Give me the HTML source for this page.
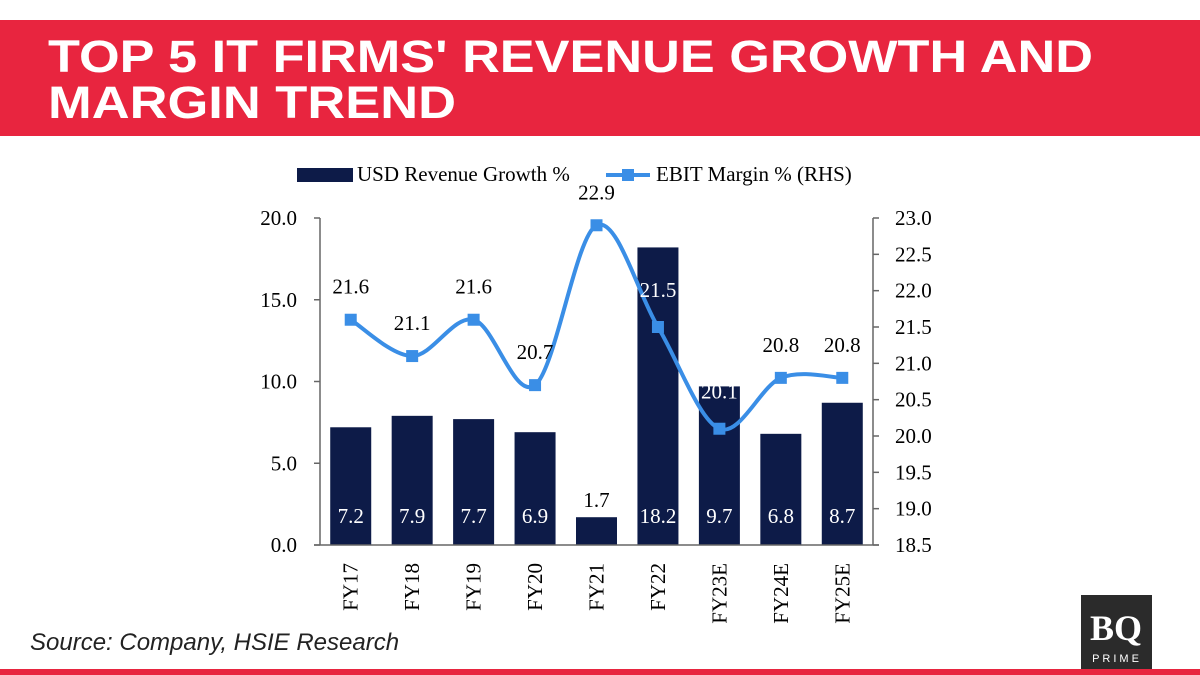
<!DOCTYPE html>
<html><head><meta charset="utf-8"><style>
html,body{margin:0;padding:0;background:#fff;width:1200px;height:675px;overflow:hidden}
svg{display:block}
</style></head><body>
<svg id="c" width="1200" height="675" xmlns="http://www.w3.org/2000/svg">
<rect x="0" y="20" width="1200" height="116" fill="#e8253f"/>
<text x="48" y="72" fill="#fff" font-family="Liberation Sans, sans-serif" font-weight="bold" font-size="45" textLength="1045" lengthAdjust="spacingAndGlyphs">TOP 5 IT FIRMS' REVENUE GROWTH AND</text>
<text x="48" y="118" fill="#fff" font-family="Liberation Sans, sans-serif" font-weight="bold" font-size="45" textLength="408" lengthAdjust="spacingAndGlyphs">MARGIN TREND</text>
<g>
<rect x="297" y="168" width="56" height="14" fill="#0d1b48"/>
<text x="357" y="181" font-family="Liberation Serif, serif" font-size="21" fill="#000">USD Revenue Growth %</text>
<line x1="606" y1="175" x2="650" y2="175" stroke="#3a8ee6" stroke-width="4"/>
<rect x="622" y="169" width="12" height="12" fill="#3a8ee6"/>
<text x="656" y="181" font-family="Liberation Serif, serif" font-size="21" fill="#000">EBIT Margin % (RHS)</text>
</g>
<g id="plot"></g>
<text x="30" y="650" font-family="Liberation Sans, sans-serif" font-style="italic" font-size="24" fill="#222">Source: Company, HSIE Research</text>
<g>
<rect x="1081" y="595" width="71" height="74" fill="#2b2b2b"/>
<text x="1116" y="640" text-anchor="middle" fill="#fff" font-family="Liberation Serif, serif" font-weight="bold" font-size="36">BQ</text>
<text x="1117" y="662" text-anchor="middle" fill="#fff" font-family="Liberation Sans, sans-serif" font-size="11" letter-spacing="3">PRIME</text>
</g>
<rect x="0" y="669" width="1200" height="6" fill="#e8253f"/>
</svg>
<script>
const categories=["FY17","FY18","FY19","FY20","FY21","FY22","FY23E","FY24E","FY25E"];
const revenueGrowth=[7.2,7.9,7.7,6.9,1.7,18.2,9.7,6.8,8.7];
const ebitMargin=[21.6,21.1,21.6,20.7,22.9,21.5,20.1,20.8,20.8];
const leftTicks=[0,5,10,15,20];
const rightTicks=[18.5,19,19.5,20,20.5,21,21.5,22,22.5,23];
const NS="http://www.w3.org/2000/svg";
const g=document.getElementById("plot");
const X0=320,X1=873,Y0=545,Y1=218;
const band=(X1-X0)/categories.length;
const xc=i=>X0+band*(i+0.5);
const yL=v=>Y0-(v-0)/(20-0)*(Y0-Y1);
const yR=v=>Y0-(v-18.5)/(23-18.5)*(Y0-Y1);
function mk(t,a,p){const e=document.createElementNS(NS,t);for(const k in a)e.setAttribute(k,a[k]);(p||g).appendChild(e);return e;}
function txt(x,y,s,a){const e=mk("text",Object.assign({x:x,y:y,"font-family":"Liberation Serif, serif","font-size":"21"},a));e.textContent=s;return e;}
// bars
revenueGrowth.forEach((v,i)=>{
 const r=mk("rect",{x:xc(i)-20.5,y:yL(v),width:41,height:Y0-yL(v),fill:"#0d1b48"});
 
 
});
// axes
let a=mk("line",{x1:X0,y1:Y1,x2:X0,y2:Y0,stroke:"#666","stroke-width":1.5});

a=mk("line",{x1:X1,y1:Y1,x2:X1,y2:Y0,stroke:"#666","stroke-width":1.5});

a=mk("line",{x1:314,y1:Y0,x2:X1+6,y2:Y0,stroke:"#666","stroke-width":1.5});

leftTicks.forEach(v=>{
 mk("line",{x1:X0-6,y1:yL(v),x2:X0,y2:yL(v),stroke:"#666","stroke-width":1.5});
 const t=txt(297,yL(v)+7,v.toFixed(1),{"text-anchor":"end",fill:"#000"});
 
});
rightTicks.forEach(v=>{
 mk("line",{x1:X1,y1:yR(v),x2:X1+6,y2:yR(v),stroke:"#666","stroke-width":1.5});
 const t=txt(895,yR(v)+7,v.toFixed(1),{fill:"#000"});
 
});
categories.forEach((c,i)=>{
 const t=txt(0,0,c,{"text-anchor":"end",fill:"#000",transform:`translate(${xc(i)+7},${Y0+18}) rotate(-90)`});
 
});
// bar labels
revenueGrowth.forEach((v,i)=>{
 let y=Y0-22,fill="#fff";
 if(yL(v)>Y0-45){y=yL(v)-10;fill="#000";}
 const t=txt(xc(i),y,v.toFixed(1),{"text-anchor":"middle",fill:fill});
 
});
// smooth line
const pts=ebitMargin.map((v,i)=>[xc(i),yR(v)]);
let d=`M${pts[0][0]},${pts[0][1]}`;
for(let i=0;i<pts.length-1;i++){
 const p0=pts[Math.max(0,i-1)],p1=pts[i],p2=pts[i+1],p3=pts[Math.min(pts.length-1,i+2)];
 const k=1/6;
 d+=` C${p1[0]+(p2[0]-p0[0])*k},${p1[1]+(p2[1]-p0[1])*k} ${p2[0]-(p3[0]-p1[0])*k},${p2[1]-(p3[1]-p1[1])*k} ${p2[0]},${p2[1]}`;
}
const ln=mk("path",{d:d,fill:"none",stroke:"#3a8ee6","stroke-width":4});

pts.forEach((p,i)=>{
 const m=mk("rect",{x:p[0]-6,y:p[1]-6,width:12,height:12,fill:"#3a8ee6"});
 
 
});
ebitMargin.forEach((v,i)=>{
 const p=pts[i];
 const onBar=yL(revenueGrowth[i])<p[1]-20;
 const t=txt(p[0],p[1]-(onBar?30:26),v.toFixed(1),{"text-anchor":"middle",fill:onBar?"#fff":"#000"});
 
});
</script>
</body></html>
